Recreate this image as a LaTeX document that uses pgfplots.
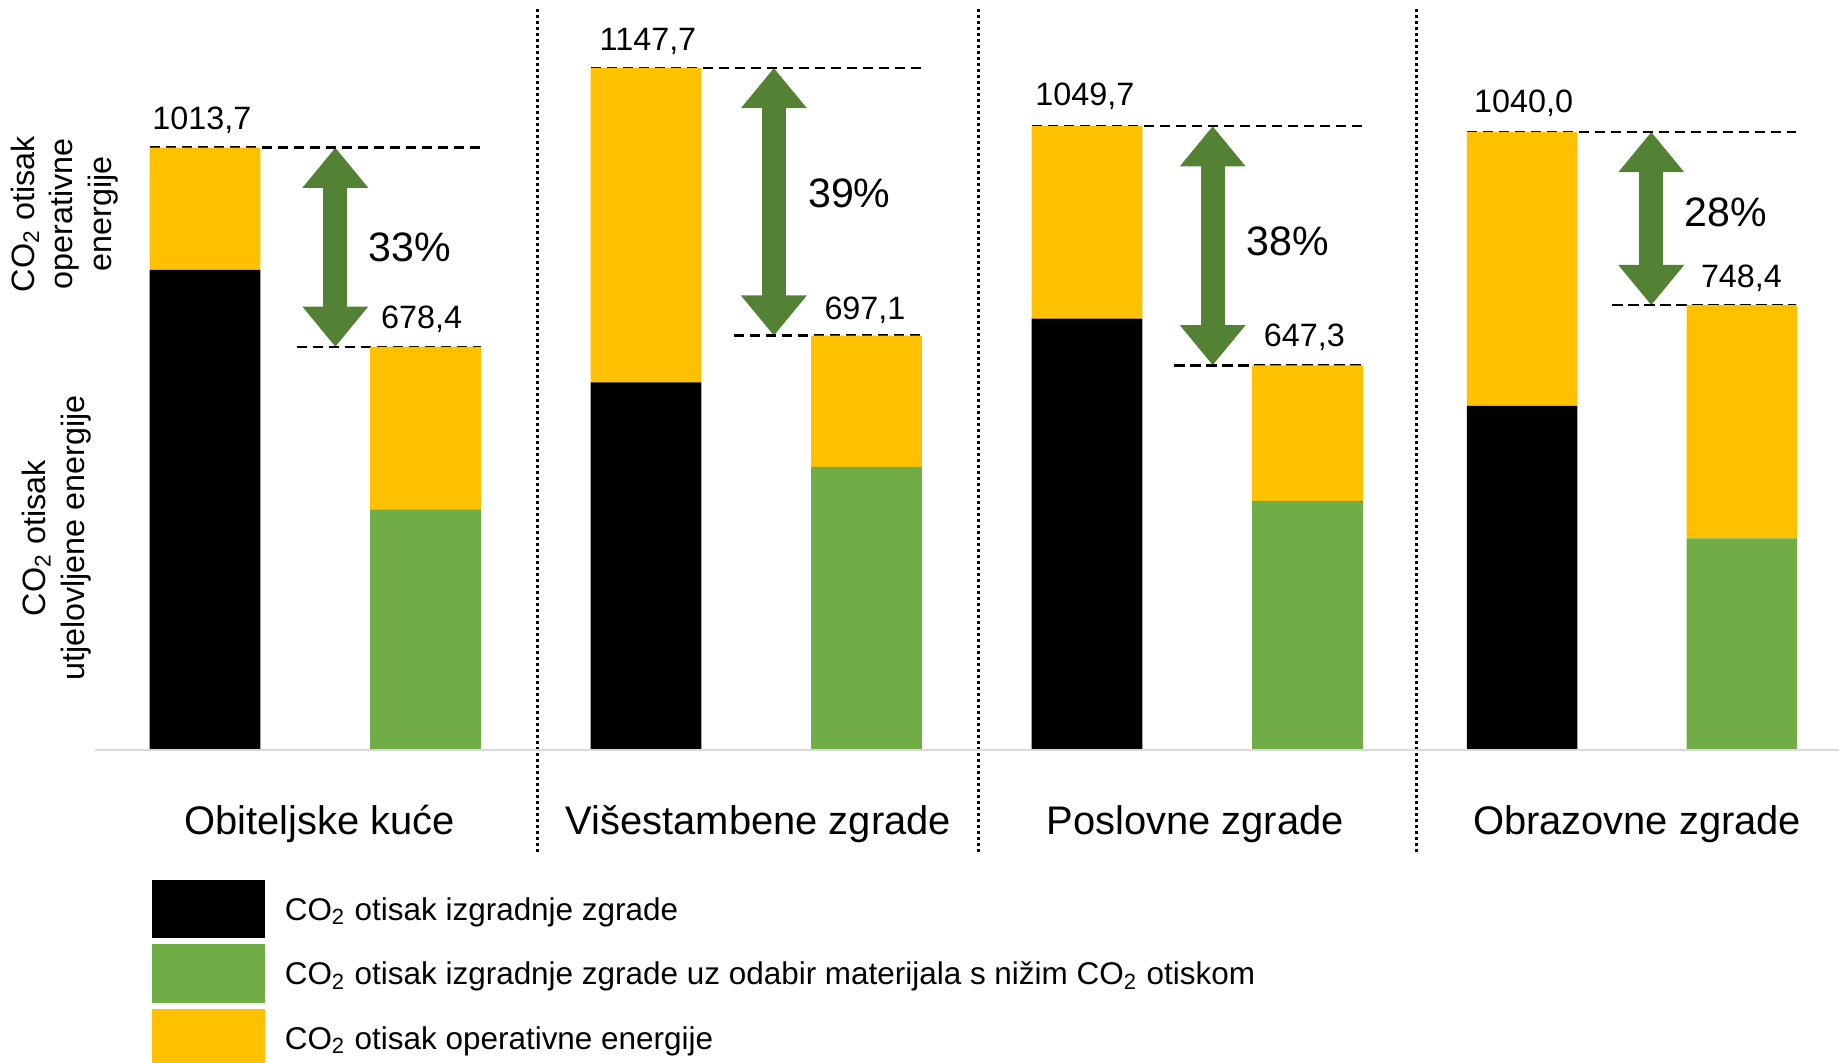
\documentclass[border=0pt]{standalone}
\usepackage{fontspec}
\setmainfont{Liberation Sans}
\usepackage{pgfplots}
\pgfplotsset{compat=1.18}
\usetikzlibrary{arrows.meta}
\definecolor{cgreen}{HTML}{70AD47}
\definecolor{cyellow}{HTML}{FFC000}
\definecolor{carrow}{HTML}{548235}
\definecolor{cbase}{HTML}{D9D9D9}
\newcommand\smallf{\fontsize{9.2pt}{11pt}\selectfont}
\newcommand\legf{\fontsize{8.95pt}{11pt}\selectfont}
\newcommand\bigf{\fontsize{11.7pt}{14pt}\selectfont}
\newcommand\catf{\fontsize{11.35pt}{14pt}\selectfont}
\pgfplotsset{swatch/.style={legend image code/.code={\fill[##1] (0mm,-2.92mm) rectangle (11.3mm,2.92mm);}}}
\tikzset{
  dline/.style={black, line width=0.25mm, dash pattern=on 1.05mm off 0.55mm},
  dsep/.style={black, line width=0.3mm, dash pattern=on 0.3mm off 0.3mm},
  darrow/.style={carrow, line width=2.43mm, {Triangle[width=6.33mm,length=4.03mm]}-{Triangle[width=6.33mm,length=4.03mm]}},
  val/.style={font=\smallf, anchor=base, inner sep=0pt},
  pct/.style={font=\bigf, anchor=center, inner sep=0pt},
  cat/.style={font=\catf, anchor=base, inner sep=0pt},
}
\begin{document}
\begin{tikzpicture}
\begin{axis}[
  at={(0,0)}, anchor=south west,
  scale only axis, width=183.9mm, height=106.2mm,
  xmin=-0.42971, xmax=7.9104, ymin=-524.99, ymax=1262.0,
  hide axis, clip=false,
  ybar stacked, bar width=0.5016,
  legend style={at={(axis cs:0.2605,-218.7)}, anchor=north west, draw=none, fill=none,
    inner sep=0pt, outer sep=0pt, row sep=0.61mm, column sep=1.96mm, font=\legf,
    nodes={inner sep=0pt, outer sep=0pt, yshift=-0.23mm}},
  legend cell align=left,
]
% baseline
\draw[cbase, line width=0.27mm] (axis cs:0,0) -- (axis cs:7.9104,0);

\addplot[fill=black, draw=none, swatch] coordinates {
  (0.5,808.0) (1.5,0) (2.5,618.7) (3.5,0) (4.5,725.7) (5.5,0) (6.473,579.2) (7.47,0)};
\addlegendentry{CO\textsubscript{2} otisak izgradnje zgrade}
\addplot[fill=cgreen, draw=none, swatch] coordinates {
  (0.5,0) (1.5,405.0) (2.5,0) (3.5,476.5) (4.5,0) (5.5,419.3) (6.473,0) (7.47,356.2)};
\addlegendentry{CO\textsubscript{2} otisak izgradnje zgrade uz odabir materijala s nižim CO\textsubscript{2} otiskom}
\addplot[fill=cyellow, draw=none, swatch] coordinates {
  (0.5,205.7) (1.5,273.4) (2.5,529.0) (3.5,220.6) (4.5,324.0) (5.5,228.0) (6.473,460.8) (7.47,392.2)};
\addlegendentry{CO\textsubscript{2} otisak operativne energije}

% group separators
\draw[dsep] (axis cs:2.007,1246.8) -- (axis cs:2.007,-175);
\draw[dsep] (axis cs:4.009,1246.8) -- (axis cs:4.009,-175);
\draw[dsep] (axis cs:5.993,1246.8) -- (axis cs:5.993,-175);

% dashed reference lines
\draw[dline] (axis cs:0.25,1013.7) -- (axis cs:1.75,1013.7);
\draw[dline] (axis cs:0.917,678.4) -- (axis cs:1.75,678.4);
\draw[dline] (axis cs:2.25,1147.7) -- (axis cs:3.75,1147.7);
\draw[dline] (axis cs:2.899,697.1) -- (axis cs:3.75,697.1);
\draw[dline] (axis cs:4.25,1049.7) -- (axis cs:5.75,1049.7);
\draw[dline] (axis cs:4.895,647.3) -- (axis cs:5.75,647.3);
\draw[dline] (axis cs:6.223,1040.0) -- (axis cs:7.715,1040.0);
\draw[dline] (axis cs:6.881,748.4) -- (axis cs:7.715,748.4);

% arrows
\draw[darrow] (axis cs:1.091,1013.7) -- (axis cs:1.091,678.4);
\draw[darrow] (axis cs:3.080,1147.7) -- (axis cs:3.080,697.1);
\draw[darrow] (axis cs:5.070,1049.7) -- (axis cs:5.070,647.3);
\draw[darrow] (axis cs:7.059,1040.0) -- (axis cs:7.059,748.4);

% percentages
\node[pct] at (axis cs:1.43,846.4) {33\%};
\node[pct] at (axis cs:3.422,937.2) {39\%};
\node[pct] at (axis cs:5.411,855.3) {38\%};
\node[pct] at (axis cs:7.397,905.3) {28\%};

% value labels
\node[val] at (axis cs:0.486,1044.9) {1013,7};
\node[val] at (axis cs:1.482,708.4) {678,4};
\node[val] at (axis cs:2.509,1177.3) {1147,7};
\node[val] at (axis cs:3.493,725.2) {697,1};
\node[val] at (axis cs:4.490,1084.1) {1049,7};
\node[val] at (axis cs:5.486,678.6) {647,3};
\node[val] at (axis cs:6.480,1073.5) {1040,0};
\node[val] at (axis cs:7.468,778.6) {748,4};

% category labels
\node[cat] at (axis cs:1.02,-143) {Obiteljske kuće};
\node[cat] at (axis cs:3.01,-143) {Višestambene zgrade};
\node[cat] at (axis cs:4.99,-143) {Poslovne zgrade};
\node[cat] at (axis cs:6.995,-143) {Obrazovne zgrade};

% left side labels
\node[rotate=90, align=center, font=\smallf, inner sep=0pt] at (axis cs:-0.1372,901.9)
  {CO\textsubscript{2} otisak\\operativne\\energije};
\node[rotate=90, align=center, font=\smallf, inner sep=0pt] at (axis cs:-0.1721,356.7)
  {CO\textsubscript{2} otisak\\utjelovljene energije};
\end{axis}
\pgfresetboundingbox
\useasboundingbox (0,0) rectangle (183.9mm,106.2mm);
\end{tikzpicture}
\end{document}
